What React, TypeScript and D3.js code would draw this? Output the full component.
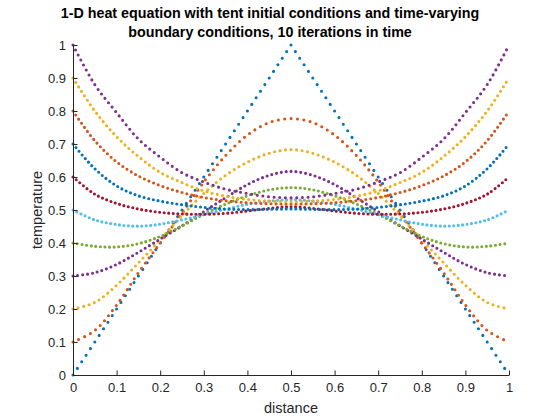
import React, { useEffect, useRef } from "react";
import * as d3 from "d3";

// grid positions the values were read at
const distance = [
  0, 0.05, 0.1, 0.15, 0.2, 0.25, 0.3, 0.35, 0.4, 0.45, 0.5, 0.55, 0.6, 0.65, 0.7, 0.75, 0.8, 0.85,
  0.9, 0.95, 1,
];

// temperature per iteration
const tent = [0, 0.1, 0.2, 0.3, 0.4, 0.5, 0.6, 0.7, 0.8, 0.9, 1, 0.9, 0.8, 0.7, 0.6, 0.5, 0.4, 0.3, 0.2, 0.1, 0];
const iter1 = [0.1, 0.135, 0.212, 0.31, 0.4, 0.49, 0.585, 0.665, 0.727, 0.765, 0.777, 0.765, 0.727, 0.665, 0.585, 0.49, 0.4, 0.31, 0.212, 0.135, 0.1];
const iter2 = [0.2, 0.22, 0.272, 0.34, 0.41, 0.483, 0.55, 0.605, 0.645, 0.672, 0.683, 0.672, 0.645, 0.605, 0.55, 0.483, 0.41, 0.34, 0.272, 0.22, 0.2];
const iter3 = [0.3, 0.31, 0.335, 0.372, 0.412, 0.452, 0.495, 0.537, 0.577, 0.605, 0.617, 0.605, 0.577, 0.537, 0.495, 0.452, 0.412, 0.372, 0.335, 0.31, 0.3];
const iter4 = [0.4, 0.39, 0.388, 0.398, 0.42, 0.452, 0.487, 0.518, 0.543, 0.561, 0.568, 0.561, 0.543, 0.518, 0.487, 0.452, 0.42, 0.398, 0.388, 0.39, 0.4];
const iter5 = [0.5, 0.47, 0.456, 0.451, 0.457, 0.47, 0.486, 0.503, 0.517, 0.527, 0.531, 0.527, 0.517, 0.503, 0.486, 0.47, 0.457, 0.451, 0.456, 0.47, 0.5];
const iter6 = [0.6, 0.548, 0.52, 0.503, 0.493, 0.488, 0.487, 0.49, 0.497, 0.505, 0.51, 0.505, 0.497, 0.49, 0.487, 0.488, 0.493, 0.503, 0.52, 0.548, 0.6];
const iter7 = [0.7, 0.625, 0.573, 0.543, 0.527, 0.516, 0.508, 0.503, 0.501, 0.502, 0.503, 0.502, 0.501, 0.503, 0.508, 0.516, 0.527, 0.543, 0.573, 0.625, 0.7];
const iter8 = [0.8, 0.71, 0.646, 0.603, 0.574, 0.553, 0.538, 0.528, 0.522, 0.519, 0.518, 0.519, 0.522, 0.528, 0.538, 0.553, 0.574, 0.603, 0.646, 0.71, 0.8];
const iter9 = [0.9, 0.8, 0.722, 0.662, 0.614, 0.583, 0.558, 0.542, 0.532, 0.527, 0.525, 0.527, 0.532, 0.542, 0.558, 0.583, 0.614, 0.662, 0.722, 0.8, 0.9];
const iter10 = [1, 0.88, 0.795, 0.715, 0.66, 0.613, 0.585, 0.563, 0.55, 0.54, 0.537, 0.54, 0.55, 0.563, 0.585, 0.613, 0.66, 0.715, 0.795, 0.88, 1];

const iterations = [tent, iter1, iter2, iter3, iter4, iter5, iter6, iter7, iter8, iter9, iter10];

const ticks = [0, 0.1, 0.2, 0.3, 0.4, 0.5, 0.6, 0.7, 0.8, 0.9, 1];

// matlab default color order
const colorOrder = ["#0072BD", "#D95319", "#EDB120", "#7E2F8E", "#77AC30", "#4DBEEE", "#A2142F"];

const W = 560;
const H = 420;
const margin = { top: 45, right: 51, bottom: 45, left: 73 };
const FONT = "'Liberation Sans', Arial, Helvetica, sans-serif";

const App = () => {
  const svgRef = useRef<SVGSVGElement>(null);

  useEffect(() => {
    const svg = d3.select(svgRef.current);
    svg.selectAll("*").remove();

    const x = d3.scaleLinear().domain([0, 1]).range([margin.left, W - margin.right]);
    const y = d3.scaleLinear().domain([0, 1]).range([H - margin.bottom, margin.top]);

    // curves, dotted like matlab '.' markers (101 dots each)
    iterations.forEach((vals, i) => {
      const line = d3
        .line<number>()
        .x((_, j) => x(distance[j]))
        .y((d) => y(d))
        .curve(i === 0 ? d3.curveLinear : d3.curveCatmullRom.alpha(0.5));
      const path = svg
        .append("path")
        .datum(vals)
        .attr("d", line)
        .attr("fill", "none")
        .attr("stroke", colorOrder[i % colorOrder.length])
        .attr("stroke-width", 3.1)
        .attr("stroke-linecap", "round");
      const len = (path.node() as SVGPathElement).getTotalLength();
      path.attr("stroke-dasharray", `0 ${len / 100}`);
    });

    // axes (ticks point inward)
    const fmt = (d: any) => String(d);
    const xAxis = svg
      .append("g")
      .attr("transform", `translate(0,${H - margin.bottom})`)
      .call(d3.axisBottom(x).tickValues(ticks).tickFormat(fmt).tickSizeInner(-4.5).tickSizeOuter(0).tickPadding(8));
    const yAxis = svg
      .append("g")
      .attr("transform", `translate(${margin.left},0)`)
      .call(d3.axisLeft(y).tickValues(ticks).tickFormat(fmt).tickSizeInner(-4.5).tickSizeOuter(0).tickPadding(7));
    [xAxis, yAxis].forEach((g) => {
      g.select(".domain").attr("stroke", "#262626");
      g.selectAll(".tick line").attr("stroke", "#262626");
      g.selectAll("text").attr("fill", "#262626").style("font-family", FONT).style("font-size", "13px");
    });

    // axis labels
    svg
      .append("text")
      .attr("x", (margin.left + W - margin.right) / 2)
      .attr("y", 413)
      .attr("text-anchor", "middle")
      .attr("fill", "#262626")
      .style("font-family", FONT)
      .style("font-size", "14.5px")
      .text("distance");
    svg
      .append("text")
      .attr("transform", `translate(42,${(margin.top + H - margin.bottom) / 2}) rotate(-90)`)
      .attr("text-anchor", "middle")
      .attr("fill", "#262626")
      .style("font-family", FONT)
      .style("font-size", "14.5px")
      .text("temperature");

    // title
    const titleLines = [
      "1-D heat equation with tent initial conditions and time-varying",
      "boundary conditions, 10 iterations in time",
    ];
    titleLines.forEach((t, i) => {
      svg
        .append("text")
        .attr("x", 270)
        .attr("y", 18 + i * 19)
        .attr("text-anchor", "middle")
        .attr("fill", "#000")
        .style("font-family", FONT)
        .style("font-weight", "bold")
        .style("font-size", "14.3px")
        .text(t);
    });
  }, []);

  return (
    <div>
      <style>{`body{margin:0;background:#fff}`}</style>
      <svg ref={svgRef} width={W} height={H} style={{ display: "block", background: "#fff" }} />
    </div>
  );
};

export default App;
